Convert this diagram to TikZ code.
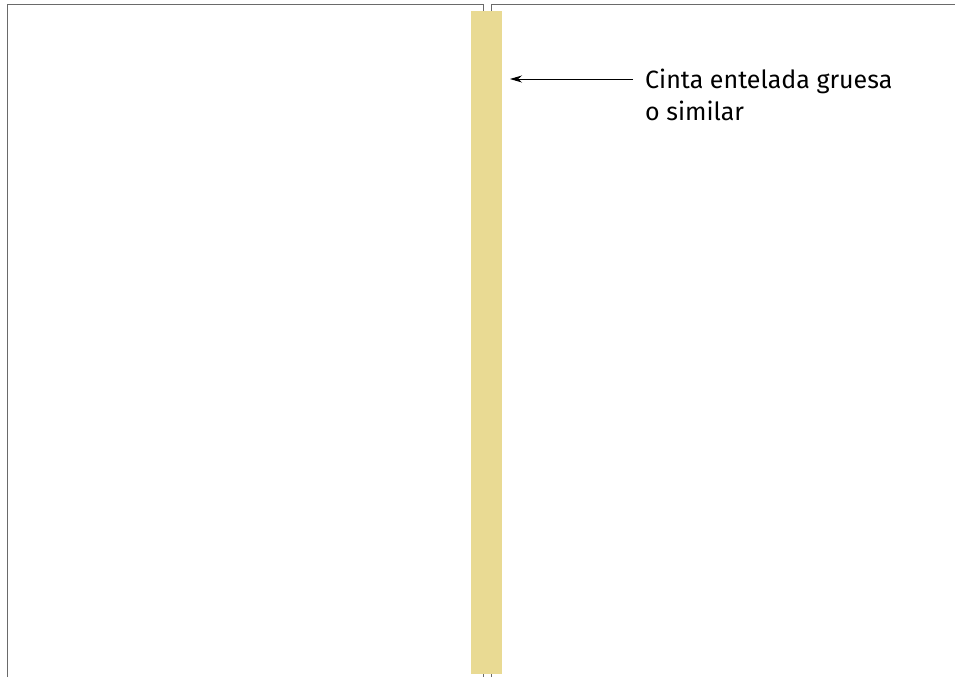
\documentclass[tikz,border=0pt]{standalone}
\usepackage{fontspec}
\setmainfont{Fira Sans}
\usetikzlibrary{arrows.meta,positioning}
\definecolor{tapecolor}{HTML}{E9DA93}
\definecolor{edgegray}{HTML}{6A6A6A}

\begin{document}
\begin{tikzpicture}[x=1pt,y=-1pt,
    panel/.style={draw=edgegray, line width=1pt},
    tape/.style={rectangle, fill=tapecolor, draw=none, inner sep=0pt,
    minimum width=31pt, minimum height=663pt},
    label/.style={align=left, inner sep=0pt, font=\fontsize{25}{32}\selectfont}]
    \useasboundingbox (0,0) rectangle (955,677);
    % the two boards
    \draw[panel] (7,677) -- (7,4.5) -- (483,4.5) -- (483,677);
    \draw[panel] (491,677) -- (491,4.5) -- (955,4.5);
    % tape over the joint
    \node[tape] (tape) at (486.5,342.5) {};
    \node[label, anchor=north west] (cinta) at (645,69) {Cinta entelada gruesa\\o similar};
    \coordinate (tip) at (510,79);
    \draw[-{Stealth[length=12pt,width=7pt]}, line width=0.9pt] (cinta.west |- tip) ++(-12,0) -- (tip);
\end{tikzpicture}
\end{document}
